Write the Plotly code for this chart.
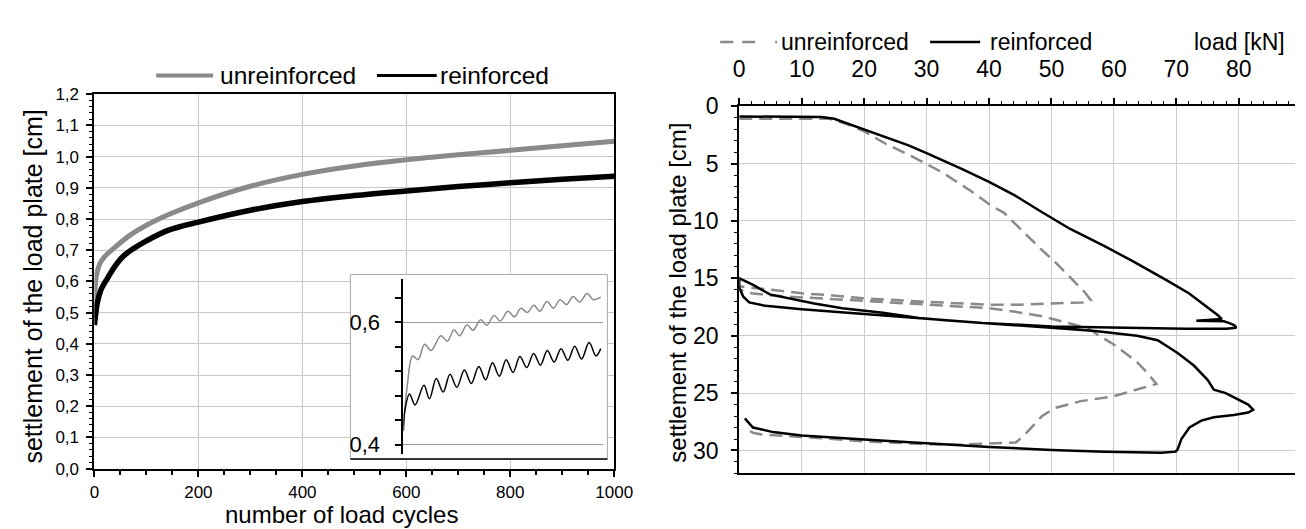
import plotly.graph_objects as go

W, H = 1306, 529
FONT = "Liberation Sans, Arial, sans-serif"
GRAY = "#8a8a8a"

# ---------------- data: left chart (settlement vs. number of load cycles) ----------------
cycles_unreinforced = [0, 1, 3, 6, 10, 20, 40, 70, 100, 144, 200, 300, 400, 500, 600, 700, 800, 900, 1000]
settlement_unreinforced = [0.48, 0.56, 0.61, 0.635, 0.655, 0.68, 0.71, 0.75, 0.78, 0.815, 0.852, 0.905,
                           0.943, 0.97, 0.99, 1.006, 1.02, 1.035, 1.049]
cycles_reinforced = [0, 2, 6, 13, 25, 40, 55, 75, 100, 144, 200, 300, 400, 500, 600, 700, 800, 900, 1000]
settlement_reinforced = [0.46, 0.49, 0.535, 0.575, 0.61, 0.65, 0.68, 0.705, 0.73, 0.765, 0.79, 0.828,
                         0.856, 0.875, 0.89, 0.904, 0.916, 0.927, 0.937]
left_y_ticks = [0.0, 0.1, 0.2, 0.3, 0.4, 0.5, 0.6, 0.7, 0.8, 0.9, 1.0, 1.1, 1.2]
left_y_labels = ["0,0", "0,1", "0,2", "0,3", "0,4", "0,5", "0,6", "0,7", "0,8", "0,9", "1,0", "1,1", "1,2"]
left_x_ticks = [0, 200, 400, 600, 800, 1000]

# ---------------- data: inset (first load cycles) ----------------
inset_x_unreinforced = [0, 0.3, 0.67, 1.07, 1.55, 2.02, 2.74, 3.21, 3.69, 4.1, 4.64, 5.07, 5.64, 6.07, 6.62,
                        7.07, 7.62, 8.1, 8.57, 9.05, 9.52, 9.95, 10.48, 10.95, 11.43, 11.9, 12.38, 12.86,
                        13.4, 13.85, 14.4]
inset_unreinforced = [0.43, 0.50, 0.545, 0.539, 0.564, 0.554, 0.578, 0.569, 0.588, 0.578, 0.596, 0.587, 0.604,
                      0.595, 0.611, 0.602, 0.618, 0.609, 0.623, 0.616, 0.628, 0.618, 0.634, 0.623, 0.637,
                      0.629, 0.642, 0.633, 0.647, 0.637, 0.641]
inset_x_reinforced = [0, 0.1, 0.45, 0.85, 1.5, 1.9, 2.4, 2.9, 3.4, 3.9, 4.45, 4.95, 5.5, 6.0, 6.5, 7.0, 7.5,
                      8.0, 8.5, 9.0, 9.5, 10.0, 10.5, 11.0, 11.5, 12.0, 12.5, 13.0, 13.55, 14.05, 14.4]
inset_reinforced = [0.423, 0.455, 0.483, 0.465, 0.497, 0.475, 0.508, 0.486, 0.515, 0.494, 0.522, 0.500,
                    0.528, 0.506, 0.534, 0.512, 0.539, 0.518, 0.544, 0.526, 0.549, 0.530, 0.554, 0.535,
                    0.557, 0.538, 0.561, 0.540, 0.567, 0.545, 0.557]
inset_y_ticks = [0.4, 0.6]
inset_y_labels = ["0,4", "0,6"]
inset_minor_ticks = [0.44, 0.48, 0.52, 0.56, 0.64]

# ---------------- data: right chart (load vs. settlement) ----------------
load_unreinforced = [0, 5, 10, 14.5, 17.7, 20, 23.5, 27.4, 32.6, 37.1, 40.3, 42.4, 45.6, 48.2, 50.8, 53.4, 55.3, 56.3,
                     55, 50, 45, 40, 35, 30, 25, 20, 15, 10, 5, 0,
                     0, 2, 5, 10, 15, 20, 25, 30, 35, 40, 44, 48.5, 53.4, 56, 57.9, 59.8, 61.8, 63.7, 65.3, 66.8,
                     63, 59.8, 54.7, 50.5, 48.5, 46.9, 45.6, 44.3, 40, 35, 30, 25, 19.7, 15, 10, 6.4, 3.6, 2.2, 0.9]
settl_unreinforced = [1.1, 1.1, 1.1, 1.1, 1.65, 2.2, 3.3, 4.3, 5.8, 7.4, 8.65, 9.3, 11.0, 12.4, 13.7, 15.1, 16.2, 16.9,
                      17.1, 17.2, 17.3, 17.3, 17.2, 17.05, 16.9, 16.75, 16.5, 16.3, 16.0, 15.7,
                      16.0, 16.3, 16.5, 16.65, 16.8, 16.95, 17.1, 17.25, 17.4, 17.6, 17.9, 18.3, 19.0, 19.4, 20.1,
                      20.7, 21.5, 22.3, 23.2, 24.2,
                      24.8, 25.3, 25.7, 26.3, 27.0, 27.9, 28.7, 29.3, 29.4, 29.5, 29.45, 29.35, 29.2, 29.0, 28.85,
                      28.7, 28.6, 28.45, 28.1]
load_reinforced = [0, 5, 10, 13.2, 15.2, 17.7, 20, 23.5, 27, 30, 35.8, 40, 44.2, 48.5, 53, 58.5, 63, 68.2, 72, 76.6,
                   77.3, 73.2, 77.6, 78.5, 79.3, 79.6,
                   78, 71.5, 65, 58.5, 50, 45, 39, 33, 28.8, 23, 16.5, 12, 8.7, 4.9, 2.3, 0,
                   0, 0.65, 1.6, 4.2, 10, 19.7, 28.8, 39, 50, 57, 63.7, 67, 70.2, 72.8, 75, 76, 77.9, 79.9, 81.5,
                   82.3, 81.5, 79.2, 76, 74, 72.1, 70.8, 70.2, 69.9, 67.6, 58.5, 50, 40, 30, 20, 10, 5.4, 2.2, 0.9]
settl_reinforced = [0.9, 0.9, 0.9, 0.95, 1.1, 1.6, 2.05, 2.75, 3.4, 4.1, 5.5, 6.6, 7.8, 9.25, 10.7, 12.2, 13.5, 15.1,
                    16.3, 18.2, 18.55, 18.7, 18.75, 18.9, 19.1, 19.3,
                    19.4, 19.4, 19.35, 19.3, 19.2, 19.05, 18.9, 18.65, 18.45, 18.0, 17.6, 17.2, 16.8, 16.4, 15.6, 15.0,
                    15.8, 16.6, 17.1, 17.4, 17.7, 18.1, 18.5, 18.9, 19.3, 19.6, 20.0, 20.4, 21.5, 22.6, 23.85, 24.7,
                    25.0, 25.55, 26.0, 26.45, 26.7, 26.9, 27.1, 27.4, 28.0, 29.0, 29.9, 30.1, 30.2, 30.1, 29.95, 29.7,
                    29.4, 29.05, 28.7, 28.4, 28.0, 27.2]
right_x_ticks = [0, 10, 20, 30, 40, 50, 60, 70, 80]
right_y_ticks = [0, 5, 10, 15, 20, 25, 30]


# ---------------- layout helpers (pixel -> paper) ----------------
def px(x):
    return x / W


def py(y):
    return 1 - y / H


# left plot frame in pixels
LX0, LX1, LY0, LY1 = 82, 612, 468, 76.5   # x=0, x=1000, y=0.0, y=1.2


def lx(p):  # pixel -> data x of left plot
    return (p - LX0) / (LX1 - LX0) * 1000


def ly(p):  # pixel -> data y of left plot
    return (LY0 - p) / (LY0 - LY1) * 1.2


fig = go.Figure()

# left chart curves
fig.add_trace(go.Scatter(x=cycles_unreinforced, y=settlement_unreinforced, mode="lines",
                         line=dict(color=GRAY, width=5, shape="spline"), xaxis="x", yaxis="y",
                         name="unreinforced"))
fig.add_trace(go.Scatter(x=cycles_reinforced, y=settlement_reinforced, mode="lines",
                         line=dict(color="black", width=5.5, shape="spline"), xaxis="x", yaxis="y",
                         name="reinforced"))
# inset curves
fig.add_trace(go.Scatter(x=inset_x_unreinforced, y=inset_unreinforced, mode="lines",
                         line=dict(color=GRAY, width=1.5, shape="spline"), xaxis="x3", yaxis="y3",
                         name="unreinforced"))
fig.add_trace(go.Scatter(x=inset_x_reinforced, y=inset_reinforced, mode="lines",
                         line=dict(color="black", width=1.5, shape="spline"), xaxis="x3", yaxis="y3",
                         name="reinforced"))
# right chart curves
fig.add_trace(go.Scatter(x=load_unreinforced, y=settl_unreinforced, mode="lines",
                         line=dict(color=GRAY, width=2.5, dash="13px,7px"), xaxis="x2", yaxis="y2",
                         name="unreinforced"))
fig.add_trace(go.Scatter(x=load_reinforced, y=settl_reinforced, mode="lines",
                         line=dict(color="black", width=2.5), xaxis="x2", yaxis="y2",
                         name="reinforced"))

common = dict(showline=True, linecolor="black", zeroline=False, ticks="outside", tickcolor="black")

fig.update_layout(
    width=W, height=H, autosize=False,
    margin=dict(l=0, r=0, t=0, b=0),
    paper_bgcolor="white", plot_bgcolor="white",
    showlegend=False,
    font=dict(family=FONT, color="black"),
    xaxis=dict(domain=[px(LX0), px(LX1)], range=[0, 1000], anchor="y",
               tickmode="array", tickvals=left_x_ticks, ticklen=6, tickwidth=1.5,
               linewidth=2, mirror=True, showgrid=True, gridcolor="#c8c8c8", gridwidth=1,
               tickfont=dict(size=17), ticklabelstandoff=1,
               minor=dict(tickmode="linear", tick0=0, dtick=50, ticks="outside", ticklen=4,
                          tickwidth=1.5, tickcolor="black", showgrid=False), **common),
    yaxis=dict(domain=[py(LY0), py(LY1)], range=[0, 1.2], anchor="x",
               tickmode="array", tickvals=left_y_ticks, ticktext=left_y_labels, ticklen=6, tickwidth=1.5,
               linewidth=2, mirror=True, showgrid=True, gridcolor="#c8c8c8", gridwidth=1,
               tickfont=dict(size=17), ticklabelstandoff=4,
               minor=dict(tickmode="linear", tick0=0, dtick=0.02, ticks="outside", ticklen=3,
                          tickwidth=1.2, tickcolor="black", showgrid=False), **common),
    xaxis2=dict(domain=[px(739.4), 1.0], range=[0, 89], anchor="y2", side="top",
                tickmode="array", tickvals=right_x_ticks, ticklen=6, tickwidth=1.5,
                linewidth=2, mirror=True, showgrid=True, gridcolor="#cccccc", gridwidth=1,
                tickfont=dict(size=23), ticklabelstandoff=12,
                minor=dict(tickmode="linear", tick0=0, dtick=2, ticks="outside", ticklen=3,
                           tickwidth=1.2, tickcolor="black", showgrid=False), **common),
    yaxis2=dict(domain=[py(473), py(89)], range=[32, 0], anchor="x2",
                tickmode="array", tickvals=right_y_ticks, ticklen=6, tickwidth=1.5,
                linewidth=2, showgrid=True, gridcolor="#cccccc", gridwidth=1,
                tickfont=dict(size=23), ticklabelstandoff=8,
                minor=dict(tickmode="linear", tick0=0, dtick=1, ticks="outside", ticklen=3,
                           tickwidth=1.2, tickcolor="black", showgrid=False), **common),
    xaxis3=dict(domain=[px(397), px(601)], range=[0, 14.6], anchor="y3",
                showline=False, showgrid=False, zeroline=False, showticklabels=False, ticks=""),
    yaxis3=dict(domain=[py(452.6), py(270.2)], range=[0.385, 0.67], anchor="x3",
                tickmode="array", tickvals=inset_y_ticks, ticktext=inset_y_labels, ticklen=6, tickwidth=1.5,
                linewidth=2, showgrid=True, gridcolor="#999999", gridwidth=1,
                tickfont=dict(size=22), ticklabelstandoff=11,
                minor=dict(tickmode="array", tickvals=inset_minor_ticks, ticks="outside", ticklen=6,
                           tickwidth=1.5, tickcolor="black", showgrid=False), **common),
)

shapes = [
    # inset panel (opaque, above main grid, below traces)
    dict(type="rect", xref="x", yref="y", x0=lx(343), x1=lx(605), y0=ly(458), y1=ly(265),
         fillcolor="white", line=dict(color="#aaaaaa", width=1), layer="between"),
    dict(type="line", xref="paper", yref="paper", x0=px(343), x1=px(605), y0=py(458), y1=py(458),
         line=dict(color="black", width=1.5), layer="above"),
    # left legend samples
    dict(type="line", xref="paper", yref="paper", x0=px(145), x1=px(203), y0=py(57), y1=py(57),
         line=dict(color=GRAY, width=4)),
    dict(type="line", xref="paper", yref="paper", x0=px(370), x1=px(431), y0=py(57), y1=py(57),
         line=dict(color="black", width=3)),
    # right legend samples
    dict(type="line", xref="paper", yref="paper", x0=px(720), x1=px(778), y0=py(22), y1=py(22),
         line=dict(color=GRAY, width=2.5, dash="13px,9px,13px,20px,2px,30px")),
    dict(type="line", xref="paper", yref="paper", x0=px(934), x1=px(985), y0=py(22), y1=py(22),
         line=dict(color="black", width=2.5)),
]
fig.update_layout(shapes=shapes)

ann = []


def text(t, x, y, size, xanchor="left", angle=0):
    ann.append(dict(text=t, x=px(x), y=py(y), xref="paper", yref="paper", showarrow=False,
                    xanchor=xanchor, yanchor="middle", textangle=angle,
                    font=dict(size=size, family=FONT, color="black")))


text("unreinforced", 208, 57, 24.5)
text("reinforced", 432, 57, 24.5)
text("number of load cycles", 334, 516, 24, xanchor="center")
text("settlement of the load plate [cm]", 19, 278, 25, xanchor="center", angle=-90)
text("unreinforced", 780, 22, 23)
text("reinforced", 993, 22, 23)
text("load [kN]", 1201, 22, 23)
text("settlement of the load plate [cm]", 677, 284, 24, xanchor="center", angle=-90)
fig.update_layout(annotations=ann)

fig.write_html("out.html")
